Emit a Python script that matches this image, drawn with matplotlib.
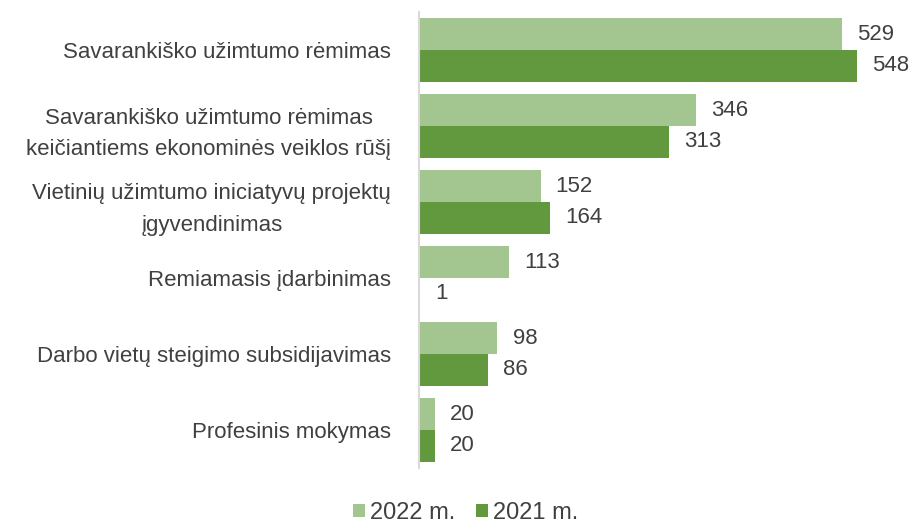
import matplotlib.pyplot as plt
import numpy as np

categories = [
    "Savarankiško užimtumo rėmimas",
    "Savarankiško užimtumo rėmimas\nkeičiantiems ekonominės veiklos rūšį",
    "Vietinių užimtumo iniciatyvų projektų\nįgyvendinimas",
    "Remiamasis įdarbinimas",
    "Darbo vietų steigimo subsidijavimas",
    "Profesinis mokymas",
]
v2022 = [529, 346, 152, 113, 98, 20]
v2021 = [548, 313, 164, 1, 86, 20]
series_names = ["2022 m.", "2021 m."]

light = "#a3c590"
dark = "#62993e"
txt = "#404040"

plt.rcParams['font.family'] = ['Liberation Sans', 'DejaVu Sans']

fig = plt.figure(figsize=(9.18, 5.29), dpi=100)
ax = fig.add_axes([419 / 918, 1 - 468 / 529, (905 - 419) / 918, (468 - 12) / 529])

y = np.arange(len(categories))
h = 0.42
b1 = ax.barh(y - h / 2, v2022, height=h, color=light, label=series_names[0])
b2 = ax.barh(y + h / 2, v2021, height=h, color=dark, label=series_names[1])

for bars, vals in ((b1, v2022), (b2, v2021)):
    for bar, v in zip(bars, vals):
        ax.text(v + 19, bar.get_y() + bar.get_height() / 2, str(v),
                va='center', ha='left', fontsize=16, color=txt)

ax.set_ylim(len(categories) - 0.5, -0.5)
ax.set_xlim(0, 608)
ax.set_yticks(y)
ax.set_yticklabels(categories, fontsize=16, color=txt, multialignment='center',
                   linespacing=1.65)
ax.tick_params(axis='y', length=0, pad=20)
ax.set_xticks([])
for s in ['top', 'right', 'bottom']:
    ax.spines[s].set_visible(False)
ax.spines['left'].set_color('#d9d9d9')
ax.spines['left'].set_linewidth(1.5)

fig.legend(handles=[b1, b2], labels=series_names, loc='lower center',
           bbox_to_anchor=(0.507, -0.03), ncol=2, frameon=False, fontsize=17,
           handlelength=0.5, handleheight=0.5, handletextpad=0.2, columnspacing=0.9,
           labelcolor=txt)

fig.savefig("out.png", dpi=100)
